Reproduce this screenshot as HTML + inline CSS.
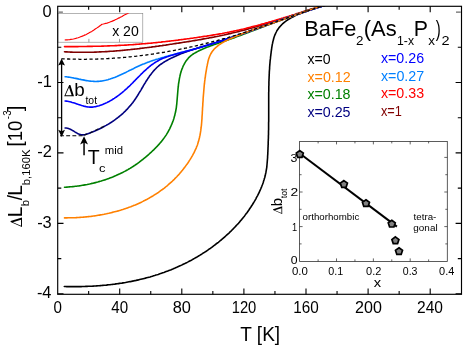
<!DOCTYPE html>
<html><head><meta charset="utf-8"><style>html,body{margin:0;padding:0;background:#fff}svg{display:block;will-change:transform}text{font-family:"Liberation Sans",sans-serif;fill:#000}</style></head><body>
<svg width="463" height="347" viewBox="0 0 463 347">
<rect width="463" height="347" fill="#fff"/>
<defs><clipPath id="cm"><rect x="57.7" y="6.3" width="403.8" height="288.0"/></clipPath><clipPath id="ci"><rect x="57.9" y="13.3" width="85" height="28.9"/></clipPath></defs>
<g clip-path="url(#cm)" fill="none" stroke-width="1.6" stroke-linejoin="round" stroke-linecap="round">
<path d="M64.3,286.5 L65.5,286.5 L66.7,286.6 L67.9,286.6 L69.1,286.6 L70.3,286.6 L71.5,286.6 L72.7,286.6 L73.9,286.6 L75.1,286.6 L76.3,286.6 L77.5,286.6 L78.7,286.6 L79.9,286.6 L81.1,286.6 L82.3,286.5 L83.5,286.5 L84.7,286.5 L85.9,286.4 L87.1,286.4 L88.4,286.3 L89.6,286.3 L90.8,286.2 L92.0,286.2 L93.2,286.1 L94.4,286.0 L95.6,286.0 L96.8,285.9 L98.0,285.8 L99.2,285.7 L100.4,285.6 L101.6,285.5 L102.8,285.4 L104.0,285.3 L105.2,285.2 L106.4,285.1 L107.6,284.9 L108.8,284.8 L110.0,284.7 L111.2,284.5 L112.4,284.4 L113.6,284.2 L114.8,284.1 L116.0,283.9 L117.2,283.8 L118.4,283.6 L119.5,283.4 L120.7,283.2 L121.9,283.1 L123.1,282.9 L124.3,282.7 L125.5,282.5 L126.7,282.2 L127.9,282.0 L129.0,281.8 L130.2,281.6 L131.4,281.4 L132.6,281.1 L133.8,280.9 L134.9,280.6 L136.1,280.4 L137.3,280.1 L138.5,279.9 L139.6,279.6 L140.8,279.3 L142.0,279.0 L143.2,278.7 L144.3,278.4 L145.5,278.1 L146.6,277.8 L147.8,277.5 L149.0,277.2 L150.1,276.9 L151.3,276.5 L152.4,276.2 L153.6,275.8 L154.7,275.5 L155.9,275.1 L157.0,274.8 L158.2,274.4 L159.3,274.0 L160.5,273.6 L161.6,273.2 L162.7,272.8 L163.9,272.4 L165.0,272.0 L166.1,271.6 L167.2,271.2 L168.4,270.8 L169.5,270.3 L170.6,269.9 L171.7,269.4 L172.8,269.0 L173.9,268.5 L175.1,268.0 L176.2,267.5 L177.3,267.1 L178.4,266.6 L179.5,266.1 L180.6,265.6 L181.6,265.1 L182.7,264.5 L183.8,264.0 L184.9,263.5 L186.0,262.9 L187.1,262.4 L188.1,261.9 L189.2,261.3 L190.3,260.7 L191.3,260.2 L192.4,259.6 L193.4,259.0 L194.5,258.4 L195.5,257.8 L196.6,257.2 L197.6,256.6 L198.6,256.0 L199.7,255.4 L200.7,254.7 L201.7,254.1 L202.7,253.4 L203.7,252.8 L204.8,252.1 L205.8,251.5 L206.8,250.8 L207.8,250.1 L208.7,249.4 L209.7,248.8 L210.7,248.1 L211.7,247.4 L212.7,246.6 L213.6,245.9 L214.6,245.2 L215.5,244.5 L216.5,243.7 L217.4,243.0 L218.4,242.3 L219.3,241.5 L220.3,240.7 L221.2,240.0 L222.1,239.2 L223.0,238.4 L223.9,237.6 L224.8,236.8 L225.7,236.0 L226.6,235.2 L227.5,234.4 L228.4,233.6 L229.3,232.8 L230.1,231.9 L231.0,231.1 L231.8,230.3 L232.7,229.4 L233.5,228.5 L234.4,227.7 L235.2,226.8 L236.0,225.9 L236.8,225.0 L237.7,224.2 L238.5,223.3 L239.2,222.4 L240.0,221.4 L240.8,220.5 L241.6,219.6 L242.3,218.7 L243.1,217.7 L243.9,216.8 L244.6,215.9 L245.3,214.9 L246.0,213.9 L246.8,213.0 L247.5,212.0 L248.2,211.0 L248.9,210.0 L249.5,209.0 L250.2,208.0 L250.9,207.0 L251.5,206.0 L252.2,205.0 L252.8,204.0 L253.4,203.0 L254.1,201.9 L254.7,200.9 L255.3,199.8 L255.9,198.8 L256.4,197.7 L257.0,196.6 L257.6,195.6 L258.1,194.5 L258.7,193.4 L259.2,192.3 L259.7,191.2 L260.2,190.1 L260.7,189.0 L261.1,187.9 L261.6,186.8 L262.0,185.7 L262.5,184.5 L262.9,183.4 L263.3,182.3 L263.6,181.1 L264.0,180.0 L264.3,178.8 L264.7,177.7 L265.0,176.5 L265.3,175.3 L265.5,174.2 L265.8,173.0 L266.0,171.8 L266.2,170.7 L266.4,169.5 L266.6,168.3 L266.8,167.1 L266.9,165.9 L267.0,164.7 L267.1,163.5 L267.2,162.3 L267.3,161.1 L267.4,159.9 L267.5,158.7 L267.6,157.5 L267.6,156.3 L267.7,155.1 L267.8,153.9 L267.8,152.7 L267.9,151.5 L267.9,150.3 L268.0,149.1 L268.0,147.9 L268.1,146.7 L268.1,145.5 L268.2,144.3 L268.2,143.1 L268.2,141.9 L268.3,140.7 L268.3,139.5 L268.4,138.3 L268.4,137.1 L268.4,135.9 L268.5,134.6 L268.5,133.4 L268.5,132.2 L268.5,131.0 L268.6,129.8 L268.6,128.6 L268.6,127.4 L268.6,126.2 L268.6,125.0 L268.6,123.8 L268.6,122.6 L268.7,121.4 L268.7,120.2 L268.7,119.0 L268.7,117.8 L268.7,116.6 L268.7,115.4 L268.7,114.2 L268.7,113.0 L268.7,111.8 L268.7,110.6 L268.7,109.4 L268.7,108.2 L268.7,107.0 L268.7,105.8 L268.7,104.5 L268.7,103.3 L268.7,102.1 L268.7,100.9 L268.7,99.7 L268.7,98.5 L268.7,97.3 L268.7,96.1 L268.7,94.9 L268.7,93.7 L268.7,92.5 L268.8,91.3 L268.8,90.1 L268.8,88.9 L268.8,87.7 L268.8,86.5 L268.9,85.3 L268.9,84.1 L268.9,82.9 L268.9,81.7 L269.0,80.5 L269.0,79.3 L269.1,78.1 L269.1,76.9 L269.2,75.7 L269.2,74.5 L269.3,73.3 L269.3,72.1 L269.4,70.9 L269.5,69.7 L269.6,68.5 L269.6,67.3 L269.7,66.1 L269.8,64.9 L269.9,63.7 L270.0,62.5 L270.1,61.3 L270.2,60.1 L270.4,58.9 L270.5,57.7 L270.6,56.5 L270.8,55.3 L270.9,54.1 L271.1,52.8 L271.2,51.6 L271.4,50.4 L271.6,49.2 L271.7,48.0 L271.9,46.8 L272.1,45.6 L272.3,44.4 L272.6,43.2 L272.8,42.0 L273.1,40.9 L273.4,39.7 L273.7,38.5 L274.0,37.4 L274.4,36.3 L274.8,35.2 L275.3,34.1 L275.8,33.0 L276.3,32.0 L276.8,30.9 L277.4,30.0 L278.1,29.0 L278.8,28.0 L279.5,27.1 L280.3,26.2 L281.1,25.4 L281.9,24.5 L282.8,23.7 L283.7,22.9 L284.6,22.1 L285.6,21.4 L286.5,20.7 L287.5,20.0 L288.5,19.3 L289.6,18.7 L290.6,18.1 L291.7,17.5 L292.8,16.9 L293.9,16.4 L295.0,15.8 L296.1,15.3 L297.2,14.8 L298.3,14.3 L299.5,13.9 L300.6,13.4 L301.8,13.0 L302.9,12.5 L304.1,12.1 L305.2,11.7 L306.4,11.3 L307.5,10.9 L308.7,10.5 L309.8,10.1 L310.9,9.8 L312.1,9.4 L313.2,9.0 L314.4,8.7 L315.5,8.3 L316.6,8.0 L317.8,7.6 L318.9,7.3 L320.0,7.0 L321.2,6.6 L322.3,6.3 L323.5,5.9 L324.6,5.6 L325.7,5.3 L326.9,4.9 L328.0,4.6 L329.2,4.2 L330.3,3.9 L331.5,3.6 L332.6,3.2 L333.8,2.9 L335.0,2.5" stroke="#000"/>
<path d="M64.5,51.8 L65.7,51.9 L66.9,51.9 L68.1,52.0 L69.4,52.0 L70.6,52.1 L71.8,52.1 L73.0,52.2 L74.2,52.2 L75.4,52.2 L76.6,52.3 L77.8,52.3 L79.0,52.3 L80.3,52.3 L81.5,52.3 L82.7,52.3 L83.9,52.3 L85.1,52.3 L86.3,52.3 L87.5,52.3 L88.7,52.3 L89.9,52.2 L91.1,52.2 L92.3,52.2 L93.5,52.2 L94.7,52.1 L96.0,52.1 L97.2,52.0 L98.4,52.0 L99.6,51.9 L100.8,51.9 L102.0,51.8 L103.2,51.8 L104.4,51.7 L105.6,51.6 L106.8,51.6 L108.0,51.5 L109.2,51.4 L110.4,51.3 L111.6,51.2 L112.8,51.2 L114.0,51.1 L115.2,51.0 L116.4,50.9 L117.6,50.8 L118.8,50.7 L120.0,50.6 L121.2,50.5 L122.4,50.4 L123.6,50.3 L124.8,50.1 L126.0,50.0 L127.2,49.9 L128.4,49.8 L129.6,49.7 L130.8,49.5 L132.0,49.4 L133.2,49.3 L134.4,49.1 L135.6,49.0 L136.8,48.9 L138.0,48.7 L139.2,48.6 L140.4,48.4 L141.6,48.3 L142.8,48.1 L144.0,48.0 L145.2,47.8 L146.4,47.7 L147.6,47.5 L148.8,47.4 L150.0,47.2 L151.2,47.1 L152.4,46.9 L153.6,46.7 L154.8,46.6 L156.0,46.4 L157.2,46.2 L158.4,46.1 L159.6,45.9 L160.8,45.7 L162.0,45.6 L163.2,45.4 L164.4,45.2 L165.6,45.1 L166.8,44.9 L167.9,44.7 L169.1,44.5 L170.3,44.3 L171.5,44.2 L172.7,44.0 L173.9,43.8 L175.1,43.6 L176.3,43.4 L177.5,43.3 L178.7,43.1 L179.9,42.9 L181.1,42.7 L182.3,42.5 L183.5,42.3 L184.7,42.1 L185.9,42.0 L187.1,41.8 L188.3,41.6 L189.5,41.4 L190.6,41.2 L191.8,41.0 L193.0,40.8 L194.2,40.6 L195.4,40.4 L196.6,40.2 L197.8,40.0 L199.0,39.8 L200.2,39.6 L201.4,39.4 L202.6,39.1 L203.8,38.9 L204.9,38.7 L206.1,38.5 L207.3,38.3 L208.5,38.1 L209.7,37.8 L210.9,37.6 L212.1,37.4 L213.3,37.2 L214.4,36.9 L215.6,36.7 L216.8,36.5 L218.0,36.2 L219.2,36.0 L220.4,35.7 L221.5,35.5 L222.7,35.2 L223.9,35.0 L225.1,34.7 L226.2,34.5 L227.4,34.2 L228.6,33.9 L229.8,33.7 L231.0,33.4 L232.1,33.1 L233.3,32.8 L234.5,32.5 L235.6,32.3 L236.8,32.0 L238.0,31.7 L239.2,31.4 L240.3,31.1 L241.5,30.8 L242.7,30.5 L243.8,30.2 L245.0,29.9 L246.2,29.6 L247.3,29.2 L248.5,28.9 L249.6,28.6 L250.8,28.3 L252.0,28.0 L253.1,27.6 L254.3,27.3 L255.5,27.0 L256.6,26.6 L257.8,26.3 L258.9,26.0 L260.1,25.6 L261.2,25.3 L262.4,25.0 L263.6,24.6 L264.7,24.3 L265.9,23.9 L267.0,23.6 L268.2,23.2 L269.3,22.9 L270.5,22.5 L271.6,22.2 L272.8,21.8 L274.0,21.4 L275.1,21.1 L276.3,20.7 L277.4,20.3 L278.6,20.0 L279.7,19.6 L280.9,19.3 L282.0,18.9 L283.2,18.5 L284.3,18.1 L285.5,17.8 L286.6,17.4 L287.8,17.0 L288.9,16.7 L290.1,16.3 L291.2,15.9 L292.4,15.5 L293.5,15.1 L294.6,14.8 L295.8,14.4 L296.9,14.0 L298.1,13.6 L299.2,13.3 L300.4,12.9 L301.5,12.5 L302.7,12.1 L303.8,11.7 L305.0,11.4 L306.1,11.0 L307.3,10.6 L308.4,10.2 L309.6,9.9 L310.7,9.5 L311.9,9.1 L313.0,8.8 L314.2,8.4 L315.3,8.0 L316.5,7.7 L317.6,7.3 L318.8,6.9 L319.9,6.6 L321.1,6.2 L322.2,5.9 L323.4,5.5 L324.5,5.2 L325.7,4.8 L326.9,4.5 L328.0,4.1 L329.2,3.8 L330.3,3.5 L331.5,3.1 L332.7,2.8 L333.8,2.5 L335.0,2.2" stroke="#800000"/>
<path d="M64.5,46.6 L65.7,46.6 L66.9,46.6 L68.1,46.6 L69.3,46.6 L70.6,46.6 L71.8,46.6 L73.0,46.6 L74.2,46.6 L75.4,46.6 L76.6,46.6 L77.8,46.6 L79.0,46.5 L80.2,46.5 L81.4,46.5 L82.7,46.5 L83.9,46.5 L85.1,46.5 L86.3,46.5 L87.5,46.4 L88.7,46.4 L89.9,46.4 L91.1,46.4 L92.3,46.4 L93.5,46.3 L94.7,46.3 L96.0,46.3 L97.2,46.2 L98.4,46.2 L99.6,46.2 L100.8,46.2 L102.0,46.1 L103.2,46.1 L104.4,46.0 L105.6,46.0 L106.8,46.0 L108.0,45.9 L109.2,45.9 L110.5,45.8 L111.7,45.8 L112.9,45.7 L114.1,45.7 L115.3,45.6 L116.5,45.6 L117.7,45.5 L118.9,45.4 L120.1,45.4 L121.3,45.3 L122.5,45.3 L123.7,45.2 L124.9,45.1 L126.1,45.1 L127.3,45.0 L128.6,44.9 L129.8,44.8 L131.0,44.8 L132.2,44.7 L133.4,44.6 L134.6,44.5 L135.8,44.4 L137.0,44.3 L138.2,44.2 L139.4,44.1 L140.6,44.0 L141.8,43.9 L143.0,43.8 L144.2,43.7 L145.4,43.6 L146.6,43.5 L147.8,43.4 L149.0,43.3 L150.2,43.2 L151.4,43.1 L152.6,43.0 L153.8,42.8 L155.0,42.7 L156.2,42.6 L157.4,42.5 L158.6,42.3 L159.8,42.2 L161.0,42.1 L162.2,41.9 L163.4,41.8 L164.6,41.7 L165.9,41.5 L167.1,41.4 L168.3,41.3 L169.5,41.1 L170.7,41.0 L171.9,40.8 L173.1,40.7 L174.3,40.5 L175.5,40.4 L176.7,40.2 L177.9,40.1 L179.1,39.9 L180.3,39.8 L181.5,39.6 L182.7,39.5 L183.9,39.3 L185.1,39.1 L186.3,39.0 L187.5,38.8 L188.7,38.7 L189.9,38.5 L191.1,38.3 L192.3,38.2 L193.5,38.0 L194.7,37.8 L195.9,37.7 L197.1,37.5 L198.3,37.3 L199.5,37.1 L200.6,37.0 L201.8,36.8 L203.0,36.6 L204.2,36.4 L205.4,36.2 L206.6,36.1 L207.8,35.9 L209.0,35.7 L210.2,35.5 L211.4,35.3 L212.6,35.1 L213.8,34.9 L215.0,34.7 L216.2,34.5 L217.4,34.3 L218.6,34.1 L219.8,33.9 L221.0,33.7 L222.1,33.5 L223.3,33.2 L224.5,33.0 L225.7,32.8 L226.9,32.6 L228.1,32.3 L229.3,32.1 L230.4,31.8 L231.6,31.6 L232.8,31.4 L234.0,31.1 L235.2,30.8 L236.3,30.6 L237.5,30.3 L238.7,30.1 L239.9,29.8 L241.1,29.5 L242.2,29.2 L243.4,29.0 L244.6,28.7 L245.7,28.4 L246.9,28.1 L248.1,27.8 L249.3,27.5 L250.4,27.2 L251.6,26.9 L252.8,26.6 L253.9,26.3 L255.1,26.0 L256.3,25.7 L257.4,25.4 L258.6,25.1 L259.8,24.8 L260.9,24.4 L262.1,24.1 L263.3,23.8 L264.4,23.5 L265.6,23.1 L266.8,22.8 L267.9,22.5 L269.1,22.1 L270.2,21.8 L271.4,21.5 L272.6,21.1 L273.7,20.8 L274.9,20.4 L276.0,20.1 L277.2,19.7 L278.4,19.4 L279.5,19.0 L280.7,18.7 L281.8,18.3 L283.0,18.0 L284.1,17.6 L285.3,17.3 L286.4,16.9 L287.6,16.6 L288.8,16.2 L289.9,15.8 L291.1,15.5 L292.2,15.1 L293.4,14.7 L294.5,14.4 L295.7,14.0 L296.8,13.6 L298.0,13.3 L299.1,12.9 L300.3,12.5 L301.4,12.2 L302.6,11.8 L303.7,11.4 L304.9,11.1 L306.1,10.7 L307.2,10.3 L308.4,10.0 L309.5,9.6 L310.7,9.2 L311.8,8.9 L313.0,8.5 L314.1,8.2 L315.3,7.8 L316.4,7.4 L317.6,7.1 L318.8,6.7 L319.9,6.4 L321.1,6.0 L322.2,5.7 L323.4,5.3 L324.5,5.0 L325.7,4.6 L326.9,4.3 L328.0,4.0 L329.2,3.6 L330.3,3.3 L331.5,3.0 L332.7,2.7 L333.8,2.3 L335.0,2.0" stroke="#ff0000"/>
<path d="M64.5,187.2 L65.7,187.2 L66.9,187.1 L68.1,187.0 L69.3,186.9 L70.5,186.8 L71.7,186.7 L72.9,186.6 L74.1,186.5 L75.3,186.3 L76.5,186.2 L77.7,186.0 L78.9,185.9 L80.1,185.7 L81.3,185.5 L82.5,185.3 L83.7,185.1 L84.9,184.9 L86.0,184.7 L87.2,184.5 L88.4,184.2 L89.6,184.0 L90.8,183.7 L92.0,183.4 L93.1,183.2 L94.3,182.9 L95.5,182.6 L96.7,182.3 L97.8,182.0 L99.0,181.6 L100.2,181.3 L101.3,181.0 L102.5,180.6 L103.6,180.2 L104.8,179.9 L105.9,179.5 L107.1,179.1 L108.2,178.7 L109.3,178.3 L110.5,177.8 L111.6,177.4 L112.7,177.0 L113.8,176.5 L114.9,176.0 L116.0,175.6 L117.1,175.1 L118.2,174.6 L119.3,174.1 L120.4,173.5 L121.5,173.0 L122.6,172.5 L123.7,171.9 L124.7,171.4 L125.8,170.8 L126.8,170.2 L127.9,169.6 L128.9,169.0 L130.0,168.4 L131.0,167.8 L132.0,167.1 L133.0,166.5 L134.0,165.8 L135.0,165.2 L136.0,164.5 L137.0,163.8 L138.0,163.1 L139.0,162.4 L139.9,161.7 L140.9,160.9 L141.8,160.2 L142.8,159.5 L143.7,158.7 L144.7,157.9 L145.6,157.2 L146.5,156.4 L147.4,155.6 L148.3,154.8 L149.2,154.0 L150.1,153.2 L151.0,152.4 L151.9,151.5 L152.8,150.7 L153.7,149.9 L154.5,149.0 L155.4,148.1 L156.2,147.3 L157.1,146.4 L157.9,145.5 L158.7,144.6 L159.5,143.7 L160.3,142.8 L161.1,141.9 L161.8,141.0 L162.6,140.0 L163.3,139.1 L164.0,138.1 L164.7,137.1 L165.4,136.1 L166.1,135.1 L166.7,134.1 L167.3,133.1 L168.0,132.0 L168.5,131.0 L169.1,129.9 L169.7,128.8 L170.2,127.7 L170.7,126.6 L171.2,125.5 L171.7,124.4 L172.1,123.3 L172.6,122.2 L173.0,121.1 L173.4,119.9 L173.8,118.8 L174.1,117.6 L174.4,116.5 L174.8,115.3 L175.0,114.1 L175.3,113.0 L175.6,111.8 L175.8,110.6 L176.0,109.5 L176.2,108.3 L176.4,107.1 L176.5,105.9 L176.7,104.7 L176.8,103.5 L176.9,102.3 L177.0,101.1 L177.1,99.9 L177.2,98.7 L177.3,97.5 L177.4,96.3 L177.5,95.1 L177.6,93.9 L177.7,92.7 L177.8,91.5 L177.9,90.3 L178.0,89.1 L178.1,87.9 L178.3,86.7 L178.4,85.4 L178.5,84.2 L178.7,83.0 L178.9,81.8 L179.1,80.6 L179.3,79.3 L179.5,78.1 L179.8,76.9 L180.0,75.7 L180.3,74.5 L180.6,73.3 L181.0,72.1 L181.3,71.0 L181.7,69.8 L182.1,68.7 L182.6,67.6 L183.0,66.5 L183.5,65.4 L184.1,64.4 L184.6,63.3 L185.2,62.3 L185.8,61.3 L186.5,60.4 L187.2,59.5 L188.0,58.6 L188.7,57.7 L189.6,56.9 L190.4,56.2 L191.3,55.4 L192.3,54.7 L193.2,54.0 L194.2,53.4 L195.3,52.8 L196.3,52.2 L197.4,51.6 L198.5,51.0 L199.6,50.5 L200.7,50.0 L201.8,49.5 L202.9,49.0 L204.1,48.5 L205.2,48.0 L206.3,47.6 L207.4,47.1 L208.6,46.7 L209.7,46.3 L210.8,45.8 L212.0,45.4 L213.1,45.0 L214.3,44.6 L215.4,44.2 L216.6,43.8 L217.7,43.4 L218.8,43.0 L220.0,42.6 L221.1,42.2 L222.3,41.8 L223.4,41.5 L224.6,41.1 L225.7,40.7 L226.9,40.3 L228.0,39.9 L229.1,39.5 L230.3,39.1 L231.4,38.7 L232.6,38.3 L233.7,37.9 L234.8,37.4 L236.0,37.0 L237.1,36.6 L238.2,36.2 L239.4,35.8 L240.5,35.4 L241.6,35.0 L242.8,34.5 L243.9,34.1 L245.0,33.7 L246.2,33.3 L247.3,32.8 L248.4,32.4 L249.5,32.0 L250.7,31.6 L251.8,31.1 L252.9,30.7 L254.1,30.3 L255.2,29.8 L256.3,29.4 L257.4,29.0 L258.6,28.6 L259.7,28.1 L260.8,27.7 L261.9,27.3 L263.1,26.8 L264.2,26.4 L265.3,26.0 L266.4,25.5 L267.6,25.1 L268.7,24.7 L269.8,24.2 L270.9,23.8 L272.1,23.4 L273.2,23.0 L274.3,22.5 L275.4,22.1 L276.6,21.7 L277.7,21.3 L278.8,20.8 L280.0,20.4 L281.1,20.0 L282.2,19.6 L283.3,19.1 L284.5,18.7 L285.6,18.3 L286.7,17.9 L287.9,17.5 L289.0,17.1 L290.1,16.6 L291.3,16.2 L292.4,15.8 L293.5,15.4 L294.7,15.0 L295.8,14.6 L296.9,14.2 L298.1,13.8 L299.2,13.4 L300.3,13.0 L301.5,12.6 L302.6,12.3 L303.8,11.9 L304.9,11.5 L306.1,11.1 L307.2,10.7 L308.3,10.3 L309.5,10.0 L310.6,9.6 L311.8,9.2 L312.9,8.9 L314.1,8.5 L315.2,8.2 L316.4,7.8 L317.6,7.4 L318.7,7.1 L319.9,6.8 L321.0,6.4 L322.2,6.1 L323.4,5.7 L324.5,5.4 L325.7,5.1 L326.9,4.8 L328.0,4.4 L329.2,4.1 L330.4,3.8 L331.5,3.5 L332.7,3.2 L333.9,2.9 L335.1,2.6" stroke="#008000"/>
<path d="M65.1,76.7 L66.3,76.8 L67.4,77.0 L68.6,77.1 L69.8,77.3 L71.0,77.5 L72.2,77.7 L73.4,77.9 L74.5,78.2 L75.7,78.4 L76.9,78.6 L78.1,78.9 L79.3,79.2 L80.5,79.4 L81.7,79.7 L83.0,79.9 L84.2,80.1 L85.4,80.4 L86.6,80.6 L87.8,80.8 L89.0,81.0 L90.2,81.1 L91.4,81.2 L92.6,81.3 L93.8,81.4 L95.0,81.5 L96.2,81.5 L97.4,81.4 L98.5,81.4 L99.7,81.3 L100.9,81.1 L102.1,81.0 L103.2,80.7 L104.4,80.5 L105.6,80.3 L106.7,80.0 L107.9,79.7 L109.0,79.3 L110.1,79.0 L111.3,78.6 L112.4,78.2 L113.5,77.8 L114.6,77.4 L115.8,76.9 L116.9,76.5 L118.0,76.0 L119.1,75.5 L120.2,75.0 L121.3,74.5 L122.4,74.0 L123.5,73.5 L124.6,73.0 L125.7,72.5 L126.8,71.9 L127.8,71.4 L128.9,70.8 L130.0,70.3 L131.1,69.8 L132.2,69.2 L133.3,68.7 L134.4,68.1 L135.5,67.6 L136.6,67.1 L137.7,66.6 L138.8,66.1 L139.9,65.6 L141.0,65.1 L142.1,64.6 L143.3,64.1 L144.4,63.7 L145.5,63.2 L146.6,62.8 L147.8,62.3 L148.9,61.9 L150.0,61.5 L151.2,61.1 L152.3,60.7 L153.4,60.3 L154.6,60.0 L155.7,59.6 L156.9,59.2 L158.0,58.9 L159.2,58.5 L160.3,58.2 L161.5,57.8 L162.7,57.5 L163.8,57.2 L165.0,56.8 L166.1,56.5 L167.3,56.2 L168.5,55.9 L169.6,55.6 L170.8,55.3 L172.0,55.0 L173.1,54.7 L174.3,54.4 L175.5,54.0 L176.6,53.7 L177.8,53.4 L179.0,53.1 L180.1,52.8 L181.3,52.5 L182.5,52.2 L183.6,51.9 L184.8,51.6 L186.0,51.3 L187.1,51.0 L188.3,50.7 L189.5,50.4 L190.6,50.1 L191.8,49.8 L193.0,49.4 L194.1,49.1 L195.3,48.8 L196.4,48.5 L197.6,48.1 L198.8,47.8 L199.9,47.4 L201.1,47.1 L202.2,46.8 L203.4,46.4 L204.5,46.1 L205.7,45.7 L206.9,45.4 L208.0,45.0 L209.2,44.7 L210.3,44.3 L211.5,44.0 L212.6,43.6 L213.8,43.2 L214.9,42.9 L216.1,42.5 L217.2,42.1 L218.4,41.8 L219.5,41.4 L220.7,41.0 L221.8,40.6 L223.0,40.3 L224.1,39.9 L225.2,39.5 L226.4,39.1 L227.5,38.8 L228.7,38.4 L229.8,38.0 L231.0,37.6 L232.1,37.2 L233.2,36.8 L234.4,36.4 L235.5,36.0 L236.7,35.7 L237.8,35.3 L239.0,34.9 L240.1,34.5 L241.2,34.1 L242.4,33.7 L243.5,33.3 L244.7,32.9 L245.8,32.5 L246.9,32.1 L248.1,31.7 L249.2,31.3 L250.4,30.9 L251.5,30.5 L252.6,30.1 L253.8,29.7 L254.9,29.3 L256.0,28.9 L257.2,28.5 L258.3,28.1 L259.5,27.7 L260.6,27.3 L261.7,26.9 L262.9,26.4 L264.0,26.0 L265.1,25.6 L266.3,25.2 L267.4,24.8 L268.6,24.4 L269.7,24.0 L270.8,23.6 L272.0,23.2 L273.1,22.8 L274.2,22.4 L275.4,22.0 L276.5,21.6 L277.7,21.2 L278.8,20.8 L279.9,20.4 L281.1,20.0 L282.2,19.6 L283.4,19.2 L284.5,18.8 L285.6,18.4 L286.8,18.0 L287.9,17.6 L289.0,17.2 L290.2,16.8 L291.3,16.4 L292.5,16.0 L293.6,15.6 L294.8,15.2 L295.9,14.8 L297.0,14.4 L298.2,14.0 L299.3,13.7 L300.5,13.3 L301.6,12.9 L302.7,12.5 L303.9,12.1 L305.0,11.7 L306.2,11.4 L307.3,11.0 L308.5,10.6 L309.6,10.2 L310.8,9.8 L311.9,9.5 L313.1,9.1 L314.2,8.7 L315.4,8.4 L316.5,8.0 L317.6,7.6 L318.8,7.3 L319.9,6.9 L321.1,6.6 L322.3,6.2 L323.4,5.8 L324.6,5.5 L325.7,5.1 L326.9,4.8 L328.0,4.4 L329.2,4.1 L330.3,3.8 L331.5,3.4 L332.6,3.1 L333.8,2.7 L335.0,2.4" stroke="#0080ff"/>
<path d="M65.1,128.0 L66.2,128.0 L67.4,128.2 L68.5,128.5 L69.6,128.9 L70.8,129.5 L71.9,130.1 L73.0,130.7 L74.1,131.4 L75.2,132.1 L76.4,132.8 L77.5,133.4 L78.6,133.9 L79.7,134.3 L80.8,134.7 L82.0,134.8 L83.1,134.9 L84.2,134.7 L85.3,134.5 L86.4,134.1 L87.6,133.8 L88.7,133.4 L89.8,133.0 L90.9,132.5 L92.0,132.1 L93.1,131.7 L94.2,131.2 L95.4,130.7 L96.5,130.2 L97.6,129.8 L98.7,129.2 L99.8,128.7 L100.9,128.2 L101.9,127.7 L103.0,127.1 L104.1,126.5 L105.2,125.9 L106.2,125.4 L107.3,124.7 L108.4,124.1 L109.4,123.5 L110.4,122.8 L111.5,122.2 L112.5,121.5 L113.5,120.8 L114.5,120.1 L115.5,119.4 L116.4,118.7 L117.4,118.0 L118.4,117.2 L119.3,116.5 L120.2,115.7 L121.2,114.9 L122.1,114.1 L123.0,113.3 L123.8,112.5 L124.7,111.6 L125.6,110.8 L126.4,109.9 L127.2,109.1 L128.0,108.2 L128.8,107.3 L129.6,106.4 L130.4,105.5 L131.2,104.6 L131.9,103.6 L132.7,102.7 L133.4,101.7 L134.1,100.8 L134.8,99.8 L135.5,98.8 L136.1,97.8 L136.8,96.8 L137.4,95.8 L138.1,94.8 L138.7,93.7 L139.3,92.7 L139.9,91.7 L140.6,90.6 L141.2,89.6 L141.8,88.5 L142.4,87.5 L143.0,86.5 L143.6,85.4 L144.2,84.4 L144.9,83.3 L145.5,82.3 L146.1,81.2 L146.8,80.2 L147.5,79.2 L148.1,78.2 L148.8,77.2 L149.5,76.1 L150.2,75.2 L151.0,74.2 L151.7,73.2 L152.5,72.3 L153.3,71.3 L154.1,70.4 L154.9,69.5 L155.7,68.7 L156.6,67.8 L157.4,67.0 L158.4,66.2 L159.3,65.4 L160.2,64.7 L161.2,64.0 L162.2,63.3 L163.2,62.6 L164.2,62.0 L165.2,61.4 L166.3,60.8 L167.3,60.2 L168.4,59.6 L169.5,59.0 L170.5,58.5 L171.6,57.9 L172.7,57.4 L173.8,56.9 L174.9,56.4 L176.0,55.9 L177.1,55.4 L178.2,55.0 L179.3,54.5 L180.4,54.0 L181.5,53.6 L182.6,53.2 L183.8,52.7 L184.9,52.3 L186.0,51.9 L187.2,51.5 L188.3,51.1 L189.4,50.7 L190.6,50.3 L191.7,49.9 L192.9,49.6 L194.0,49.2 L195.2,48.8 L196.3,48.5 L197.5,48.1 L198.6,47.7 L199.8,47.4 L201.0,47.0 L202.1,46.7 L203.3,46.3 L204.4,46.0 L205.6,45.6 L206.8,45.3 L207.9,44.9 L209.1,44.6 L210.2,44.2 L211.4,43.9 L212.6,43.5 L213.7,43.2 L214.9,42.8 L216.0,42.5 L217.2,42.1 L218.3,41.8 L219.5,41.4 L220.6,41.0 L221.8,40.7 L222.9,40.3 L224.1,39.9 L225.2,39.6 L226.4,39.2 L227.5,38.8 L228.7,38.4 L229.8,38.1 L231.0,37.7 L232.1,37.3 L233.3,36.9 L234.4,36.5 L235.6,36.1 L236.7,35.8 L237.8,35.4 L239.0,35.0 L240.1,34.6 L241.3,34.2 L242.4,33.8 L243.5,33.4 L244.7,33.0 L245.8,32.6 L247.0,32.2 L248.1,31.8 L249.2,31.4 L250.4,31.0 L251.5,30.6 L252.6,30.2 L253.8,29.8 L254.9,29.4 L256.1,29.0 L257.2,28.6 L258.3,28.2 L259.5,27.8 L260.6,27.4 L261.7,27.0 L262.9,26.6 L264.0,26.1 L265.1,25.7 L266.3,25.3 L267.4,24.9 L268.5,24.5 L269.7,24.1 L270.8,23.7 L271.9,23.3 L273.1,22.9 L274.2,22.4 L275.4,22.0 L276.5,21.6 L277.6,21.2 L278.8,20.8 L279.9,20.4 L281.0,20.0 L282.2,19.6 L283.3,19.2 L284.4,18.7 L285.6,18.3 L286.7,17.9 L287.9,17.5 L289.0,17.1 L290.1,16.7 L291.3,16.3 L292.4,15.9 L293.5,15.5 L294.7,15.1 L295.8,14.7 L297.0,14.3 L298.1,13.9 L299.2,13.5 L300.4,13.1 L301.5,12.8 L302.7,12.4 L303.8,12.0 L305.0,11.6 L306.1,11.2 L307.3,10.8 L308.4,10.5 L309.6,10.1 L310.7,9.7 L311.8,9.3 L313.0,9.0 L314.1,8.6 L315.3,8.2 L316.5,7.9 L317.6,7.5 L318.8,7.2 L319.9,6.8 L321.1,6.5 L322.2,6.1 L323.4,5.8 L324.5,5.4 L325.7,5.1 L326.9,4.8 L328.0,4.4 L329.2,4.1 L330.3,3.8 L331.5,3.5 L332.7,3.2 L333.8,2.8 L335.0,2.5" stroke="#000080"/>
<path d="M65.1,101.0 L66.3,101.1 L67.5,101.3 L68.6,101.5 L69.8,101.7 L71.0,102.0 L72.2,102.4 L73.3,102.7 L74.5,103.1 L75.7,103.5 L76.9,103.9 L78.0,104.3 L79.2,104.7 L80.4,105.1 L81.6,105.5 L82.8,105.8 L83.9,106.2 L85.1,106.4 L86.3,106.7 L87.5,106.9 L88.7,107.0 L89.8,107.1 L91.0,107.1 L92.2,107.1 L93.4,107.0 L94.5,106.8 L95.7,106.6 L96.9,106.3 L98.0,106.0 L99.2,105.7 L100.3,105.3 L101.4,104.9 L102.6,104.5 L103.7,104.0 L104.8,103.6 L105.9,103.1 L106.9,102.6 L108.0,102.0 L109.1,101.5 L110.1,100.9 L111.2,100.3 L112.2,99.7 L113.2,99.0 L114.3,98.4 L115.3,97.7 L116.3,97.0 L117.2,96.3 L118.2,95.6 L119.2,94.9 L120.2,94.1 L121.1,93.4 L122.1,92.6 L123.0,91.8 L124.0,91.0 L124.9,90.2 L125.8,89.4 L126.7,88.6 L127.6,87.7 L128.5,86.9 L129.4,86.1 L130.3,85.2 L131.1,84.3 L132.0,83.5 L132.9,82.6 L133.7,81.7 L134.6,80.9 L135.4,80.0 L136.3,79.1 L137.1,78.3 L138.0,77.4 L138.9,76.5 L139.7,75.7 L140.6,74.8 L141.4,73.9 L142.3,73.1 L143.1,72.3 L144.0,71.4 L144.9,70.6 L145.8,69.8 L146.7,69.0 L147.6,68.2 L148.5,67.5 L149.4,66.7 L150.3,66.0 L151.2,65.2 L152.2,64.5 L153.2,63.8 L154.1,63.2 L155.1,62.5 L156.1,61.9 L157.2,61.3 L158.2,60.7 L159.2,60.1 L160.3,59.6 L161.4,59.1 L162.5,58.6 L163.6,58.1 L164.7,57.7 L165.9,57.2 L167.0,56.8 L168.2,56.4 L169.3,56.0 L170.5,55.6 L171.7,55.3 L172.9,54.9 L174.0,54.6 L175.2,54.2 L176.4,53.9 L177.6,53.6 L178.8,53.3 L179.9,52.9 L181.1,52.6 L182.3,52.3 L183.5,52.0 L184.6,51.7 L185.8,51.4 L187.0,51.1 L188.1,50.8 L189.3,50.5 L190.5,50.2 L191.6,49.8 L192.8,49.5 L193.9,49.2 L195.1,48.9 L196.3,48.5 L197.4,48.2 L198.6,47.9 L199.7,47.5 L200.9,47.2 L202.1,46.9 L203.2,46.5 L204.4,46.2 L205.5,45.8 L206.7,45.5 L207.8,45.1 L209.0,44.8 L210.1,44.4 L211.3,44.0 L212.4,43.7 L213.6,43.3 L214.7,43.0 L215.9,42.6 L217.0,42.2 L218.2,41.9 L219.3,41.5 L220.5,41.1 L221.6,40.7 L222.8,40.4 L223.9,40.0 L225.1,39.6 L226.2,39.2 L227.4,38.8 L228.5,38.5 L229.7,38.1 L230.8,37.7 L231.9,37.3 L233.1,36.9 L234.2,36.5 L235.4,36.1 L236.5,35.7 L237.7,35.3 L238.8,34.9 L239.9,34.5 L241.1,34.1 L242.2,33.8 L243.4,33.4 L244.5,33.0 L245.7,32.6 L246.8,32.2 L247.9,31.8 L249.1,31.3 L250.2,30.9 L251.4,30.5 L252.5,30.1 L253.6,29.7 L254.8,29.3 L255.9,28.9 L257.1,28.5 L258.2,28.1 L259.3,27.7 L260.5,27.3 L261.6,26.9 L262.8,26.5 L263.9,26.1 L265.0,25.7 L266.2,25.3 L267.3,24.9 L268.4,24.5 L269.6,24.1 L270.7,23.6 L271.9,23.2 L273.0,22.8 L274.1,22.4 L275.3,22.0 L276.4,21.6 L277.6,21.2 L278.7,20.8 L279.8,20.4 L281.0,20.0 L282.1,19.6 L283.3,19.2 L284.4,18.8 L285.6,18.4 L286.7,18.0 L287.8,17.6 L289.0,17.2 L290.1,16.8 L291.3,16.4 L292.4,16.0 L293.5,15.6 L294.7,15.2 L295.8,14.8 L297.0,14.4 L298.1,14.0 L299.3,13.7 L300.4,13.3 L301.6,12.9 L302.7,12.5 L303.8,12.1 L305.0,11.7 L306.1,11.4 L307.3,11.0 L308.4,10.6 L309.6,10.2 L310.7,9.8 L311.9,9.5 L313.0,9.1 L314.2,8.7 L315.3,8.4 L316.5,8.0 L317.6,7.6 L318.8,7.3 L319.9,6.9 L321.1,6.6 L322.2,6.2 L323.4,5.8 L324.5,5.5 L325.7,5.1 L326.9,4.8 L328.0,4.4 L329.2,4.1 L330.3,3.8 L331.5,3.4 L332.6,3.1 L333.8,2.8 L335.0,2.4" stroke="#0000ff"/>
<path d="M64.5,217.9 L65.7,217.9 L66.9,217.9 L68.1,217.8 L69.3,217.8 L70.5,217.8 L71.7,217.8 L72.9,217.7 L74.1,217.7 L75.3,217.7 L76.5,217.6 L77.7,217.5 L78.9,217.5 L80.1,217.4 L81.3,217.3 L82.5,217.2 L83.7,217.1 L84.9,217.0 L86.1,216.9 L87.3,216.8 L88.5,216.6 L89.7,216.5 L90.9,216.4 L92.1,216.2 L93.3,216.0 L94.5,215.9 L95.7,215.7 L96.9,215.5 L98.1,215.3 L99.3,215.1 L100.5,214.9 L101.7,214.7 L102.9,214.5 L104.1,214.3 L105.3,214.0 L106.5,213.8 L107.6,213.5 L108.8,213.3 L110.0,213.0 L111.2,212.7 L112.4,212.4 L113.5,212.1 L114.7,211.8 L115.9,211.5 L117.0,211.2 L118.2,210.9 L119.4,210.5 L120.5,210.2 L121.7,209.8 L122.8,209.5 L124.0,209.1 L125.1,208.7 L126.3,208.3 L127.4,207.9 L128.5,207.5 L129.7,207.1 L130.8,206.7 L131.9,206.2 L133.1,205.8 L134.2,205.3 L135.3,204.9 L136.4,204.4 L137.5,203.9 L138.6,203.4 L139.7,202.9 L140.8,202.4 L141.9,201.9 L142.9,201.4 L144.0,200.8 L145.1,200.3 L146.1,199.7 L147.2,199.2 L148.2,198.6 L149.3,198.0 L150.3,197.4 L151.4,196.8 L152.4,196.2 L153.4,195.6 L154.4,194.9 L155.5,194.3 L156.5,193.6 L157.5,193.0 L158.5,192.3 L159.4,191.6 L160.4,190.9 L161.4,190.2 L162.4,189.5 L163.3,188.8 L164.3,188.1 L165.2,187.3 L166.2,186.5 L167.1,185.8 L168.0,185.0 L168.9,184.2 L169.8,183.4 L170.7,182.6 L171.6,181.8 L172.5,181.0 L173.4,180.1 L174.3,179.3 L175.1,178.4 L176.0,177.5 L176.8,176.7 L177.6,175.8 L178.5,174.9 L179.3,174.0 L180.1,173.0 L180.9,172.1 L181.6,171.2 L182.4,170.3 L183.2,169.3 L183.9,168.3 L184.7,167.4 L185.4,166.4 L186.1,165.4 L186.8,164.4 L187.5,163.5 L188.2,162.5 L188.9,161.4 L189.5,160.4 L190.2,159.4 L190.8,158.4 L191.4,157.4 L192.0,156.3 L192.6,155.3 L193.2,154.2 L193.8,153.2 L194.3,152.1 L194.8,151.0 L195.3,149.9 L195.8,148.8 L196.3,147.8 L196.7,146.6 L197.2,145.5 L197.6,144.4 L197.9,143.3 L198.3,142.1 L198.6,141.0 L198.9,139.9 L199.2,138.7 L199.5,137.5 L199.7,136.4 L200.0,135.2 L200.2,134.0 L200.4,132.8 L200.6,131.6 L200.8,130.4 L200.9,129.2 L201.1,128.0 L201.2,126.8 L201.4,125.6 L201.5,124.4 L201.6,123.2 L201.7,122.0 L201.8,120.8 L201.9,119.5 L202.0,118.3 L202.0,117.1 L202.1,115.9 L202.2,114.7 L202.3,113.5 L202.3,112.3 L202.4,111.0 L202.5,109.8 L202.5,108.6 L202.6,107.4 L202.7,106.2 L202.8,105.0 L202.8,103.8 L202.9,102.6 L203.0,101.4 L203.1,100.2 L203.1,99.0 L203.2,97.8 L203.3,96.6 L203.4,95.4 L203.5,94.3 L203.6,93.1 L203.7,91.9 L203.8,90.7 L203.9,89.5 L204.0,88.3 L204.1,87.1 L204.2,85.9 L204.3,84.7 L204.5,83.5 L204.6,82.3 L204.7,81.1 L204.9,79.9 L205.0,78.7 L205.2,77.5 L205.4,76.3 L205.5,75.1 L205.7,73.9 L205.9,72.7 L206.1,71.5 L206.3,70.3 L206.5,69.1 L206.7,67.9 L206.9,66.7 L207.2,65.5 L207.4,64.3 L207.7,63.1 L207.9,61.9 L208.2,60.7 L208.5,59.5 L208.9,58.3 L209.3,57.2 L209.7,56.1 L210.2,55.0 L210.7,54.0 L211.3,53.0 L211.9,52.0 L212.6,51.1 L213.3,50.2 L214.0,49.3 L214.8,48.5 L215.7,47.6 L216.6,46.9 L217.5,46.1 L218.4,45.4 L219.4,44.7 L220.4,44.0 L221.4,43.4 L222.4,42.7 L223.5,42.1 L224.5,41.5 L225.6,40.9 L226.7,40.4 L227.9,39.8 L229.0,39.3 L230.1,38.8 L231.2,38.3 L232.4,37.8 L233.5,37.3 L234.7,36.8 L235.8,36.3 L236.9,35.8 L238.1,35.4 L239.2,34.9 L240.3,34.5 L241.5,34.0 L242.6,33.6 L243.7,33.2 L244.9,32.7 L246.0,32.3 L247.1,31.9 L248.3,31.5 L249.4,31.1 L250.5,30.7 L251.7,30.3 L252.8,29.9 L253.9,29.5 L255.1,29.1 L256.2,28.7 L257.3,28.3 L258.4,28.0 L259.6,27.6 L260.7,27.2 L261.8,26.8 L263.0,26.4 L264.1,26.0 L265.2,25.7 L266.4,25.3 L267.5,24.9 L268.6,24.5 L269.7,24.1 L270.9,23.8 L272.0,23.4 L273.1,23.0 L274.3,22.6 L275.4,22.2 L276.5,21.8 L277.7,21.4 L278.8,21.0 L279.9,20.6 L281.1,20.2 L282.2,19.8 L283.3,19.4 L284.5,19.0 L285.6,18.5 L286.7,18.1 L287.9,17.7 L289.0,17.3 L290.2,16.9 L291.3,16.5 L292.4,16.1 L293.6,15.6 L294.7,15.2 L295.9,14.8 L297.0,14.4 L298.1,14.0 L299.3,13.6 L300.4,13.2 L301.6,12.8 L302.7,12.4 L303.8,12.0 L305.0,11.6 L306.1,11.2 L307.3,10.8 L308.4,10.4 L309.6,10.0 L310.7,9.6 L311.9,9.2 L313.0,8.8 L314.2,8.5 L315.3,8.1 L316.5,7.7 L317.6,7.4 L318.8,7.0 L319.9,6.6 L321.1,6.3 L322.2,6.0 L323.4,5.6 L324.6,5.3 L325.7,5.0 L326.9,4.6 L328.0,4.3 L329.2,4.0 L330.4,3.7 L331.5,3.4 L332.7,3.2 L333.8,2.9 L335.0,2.6" stroke="#ff8000"/>
<path d="M61.5,58.7 L62.7,58.8 L64.0,58.9 L65.2,58.9 L66.4,59.0 L67.6,59.0 L68.8,59.0 L70.0,59.1 L71.2,59.1 L72.5,59.1 L73.7,59.2 L74.9,59.2 L76.1,59.2 L77.3,59.2 L78.5,59.2 L79.7,59.3 L80.9,59.3 L82.1,59.3 L83.4,59.3 L84.6,59.3 L85.8,59.3 L87.0,59.2 L88.2,59.2 L89.4,59.2 L90.6,59.2 L91.8,59.2 L93.0,59.1 L94.2,59.1 L95.4,59.1 L96.7,59.1 L97.9,59.0 L99.1,59.0 L100.3,58.9 L101.5,58.9 L102.7,58.8 L103.9,58.8 L105.1,58.7 L106.3,58.7 L107.5,58.6 L108.7,58.5 L109.9,58.5 L111.1,58.4 L112.3,58.3 L113.5,58.2 L114.7,58.1 L115.9,58.1 L117.1,58.0 L118.3,57.9 L119.6,57.8 L120.8,57.7 L122.0,57.6 L123.2,57.5 L124.4,57.4 L125.6,57.3 L126.8,57.2 L128.0,57.0 L129.2,56.9 L130.4,56.8 L131.6,56.7 L132.8,56.6 L134.0,56.4 L135.2,56.3 L136.3,56.2 L137.5,56.0 L138.7,55.9 L139.9,55.7 L141.1,55.6 L142.3,55.4 L143.5,55.3 L144.7,55.1 L145.9,55.0 L147.1,54.8 L148.3,54.6 L149.5,54.5 L150.7,54.3 L151.9,54.1 L153.1,54.0 L154.3,53.8 L155.5,53.6 L156.7,53.4 L157.8,53.2 L159.0,53.0 L160.2,52.9 L161.4,52.7 L162.6,52.5 L163.8,52.3 L165.0,52.1 L166.2,51.9 L167.3,51.6 L168.5,51.4 L169.7,51.2 L170.9,51.0 L172.1,50.8 L173.3,50.6 L174.5,50.3 L175.6,50.1 L176.8,49.9 L178.0,49.7 L179.2,49.4 L180.4,49.2 L181.6,48.9 L182.7,48.7 L183.9,48.5 L185.1,48.2 L186.3,48.0 L187.5,47.7 L188.6,47.5 L189.8,47.2 L191.0,46.9 L192.2,46.7 L193.3,46.4 L194.5,46.1 L195.7,45.9 L196.9,45.6 L198.0,45.3 L199.2,45.1 L200.4,44.8 L201.6,44.5 L202.7,44.2 L203.9,43.9 L205.1,43.6 L206.2,43.3 L207.4,43.0 L208.6,42.8 L209.8,42.5 L210.9,42.2 L212.1,41.8 L213.3,41.5 L214.4,41.2 L215.6,40.9 L216.8,40.6 L217.9,40.3 L219.1,40.0 L220.2,39.7 L221.4,39.3 L222.6,39.0 L223.7,38.7 L224.9,38.4 L226.1,38.0 L227.2,37.7 L228.4,37.4 L229.5,37.0 L230.7,36.7 L231.8,36.3 L233.0,36.0 L234.2,35.6 L235.3,35.3 L236.5,34.9 L237.6,34.6 L238.8,34.2 L239.9,33.9 L241.1,33.5 L242.2,33.2 L243.4,32.8 L244.5,32.4 L245.7,32.1 L246.8,31.7 L248.0,31.3 L249.1,31.0 L250.3,30.6 L251.4,30.2 L252.6,29.8 L253.7,29.4 L254.9,29.1 L256.0,28.7 L257.1,28.3 L258.3,27.9 L259.4,27.5 L260.6,27.1 L261.7,26.8 L262.9,26.4 L264.0,26.0 L265.1,25.6 L266.3,25.2 L267.4,24.8 L268.6,24.4 L269.7,24.0 L270.9,23.6 L272.0,23.2 L273.1,22.8 L274.3,22.4 L275.4,22.0 L276.6,21.6 L277.7,21.2 L278.8,20.8 L280.0,20.4 L281.1,20.0 L282.3,19.6 L283.4,19.3 L284.5,18.9 L285.7,18.5 L286.8,18.1 L287.9,17.7 L289.1,17.3 L290.2,16.9 L291.4,16.5 L292.5,16.1 L293.6,15.7 L294.8,15.3 L295.9,14.9 L297.1,14.5 L298.2,14.1 L299.4,13.7 L300.5,13.3 L301.6,12.9 L302.8,12.5 L303.9,12.2 L305.1,11.8 L306.2,11.4 L307.3,11.0 L308.5,10.6 L309.6,10.2 L310.8,9.9 L311.9,9.5 L313.1,9.1 L314.2,8.7 L315.4,8.4 L316.5,8.0 L317.6,7.6 L318.8,7.2 L319.9,6.9 L321.1,6.5 L322.2,6.1 L323.4,5.8 L324.5,5.4 L325.7,5.1 L326.8,4.7 L328.0,4.4 L329.1,4.0 L330.3,3.7 L331.4,3.3 L332.6,3.0 L333.8,2.6 L334.9,2.3" stroke="#000" stroke-width="1.3" stroke-dasharray="3.2,2.4" stroke-linecap="butt"/>
<path d="M60,135.7 L83.5,135.7" stroke="#000" stroke-width="1.15" stroke-dasharray="3.9,2.3" stroke-linecap="butt"/>
<path d="M84.0,135.2 L85.2,134.8 L86.4,134.4 L87.6,134.0 L88.8,133.5 L90.0,133.0 L91.2,132.5 L92.3,131.9 L93.5,131.4 L94.6,130.8 L95.8,130.2 L96.9,129.6 L98.1,129.0 L99.2,128.5 L100.4,127.9 L101.5,127.3 L102.7,126.8 L103.8,126.3 L105.0,125.8 L106.2,125.3" stroke="#000" stroke-width="1.3" stroke-dasharray="3.5,2.6" stroke-linecap="butt" opacity="0.75"/>
</g>
<rect x="57.9" y="13.3" width="84.9" height="28.9" fill="#fff" stroke="#808080" stroke-width="0.6"/>
<g clip-path="url(#ci)"><path d="M64.7,40.0 L65.9,39.9 L67.2,39.9 L68.5,39.7 L69.7,39.6 L70.9,39.4 L72.2,39.2 L73.4,39.0 L74.6,38.7 L75.8,38.4 L77.0,38.0 L78.2,37.7 L79.4,37.3 L80.6,36.8 L81.7,36.4 L82.9,35.9 L84.0,35.4 L85.2,34.9 L86.3,34.4 L87.4,33.8 L88.5,33.2 L89.6,32.6 L90.7,32.0 L91.8,31.4 L92.8,30.7 L93.9,30.0 L94.9,29.3 L96.0,28.6 L97.0,27.9 L98.0,27.2 L99.0,26.5 L100.0,25.7 L101.0,25.0 L102.0,24.2 L102.0,24.2 L103.3,24.0 L104.5,23.7 L105.7,23.4 L107.0,23.1 L108.2,22.7 L109.4,22.3 L110.6,21.8 L111.7,21.4 L112.9,20.9 L114.1,20.4 L115.2,19.8 L116.4,19.3 L117.5,18.7 L118.6,18.1 L119.8,17.6 L120.9,17.0 L122.0,16.4 L123.1,15.7 L124.3,15.1 L125.4,14.5 L126.5,13.9 L127.6,13.4 L128.8,12.8 L129.9,12.2 L131.0,11.6" fill="none" stroke="#ff0000" stroke-width="1.15" stroke-linejoin="round"/></g>
<path d="M88.9,42.2v-3.4 M119.5,42.2v-3.4" stroke="#606060" stroke-width="0.6"/>
<text transform="translate(112.19,36.30) scale(1.0043,1)" font-size="14">x 20</text>
<rect x="57.7" y="6.3" width="403.8" height="288.0" fill="none" stroke="#000" stroke-width="1.15"/>
<path d="M88.65,294.4v-3.4 M88.65,6.3v3.4 M119.70,294.4v-6.0 M119.70,6.3v6.0 M150.75,294.4v-3.4 M150.75,6.3v3.4 M181.80,294.4v-6.0 M181.80,6.3v6.0 M212.85,294.4v-3.4 M212.85,6.3v3.4 M243.90,294.4v-6.0 M243.90,6.3v6.0 M274.95,294.4v-3.4 M274.95,6.3v3.4 M306.00,294.4v-6.0 M306.00,6.3v6.0 M337.05,294.4v-3.4 M337.05,6.3v3.4 M368.10,294.4v-6.0 M368.10,6.3v6.0 M399.15,294.4v-3.4 M399.15,6.3v3.4 M430.20,294.4v-6.0 M430.20,6.3v6.0 M57.7,47.23h3.6 M461.4,47.23h-3.6 M57.7,82.45h5.8 M461.4,82.45h-5.8 M57.7,117.68h3.6 M461.4,117.68h-3.6 M57.7,152.90h5.8 M461.4,152.90h-5.8 M57.7,188.12h3.6 M461.4,188.12h-3.6 M57.7,223.35h5.8 M461.4,223.35h-5.8 M57.7,258.58h3.6 M461.4,258.58h-3.6 M57.7,293.80h5.8 M461.4,293.80h-5.8" stroke="#000" stroke-width="1.1" fill="none"/>
<path d="M58.3,12.1h4.6 M460.8,12.1h-4.8" stroke="#6a6a6a" stroke-width="1.3"/>
<text transform="translate(53.39,312.70) scale(0.9357,1)" font-size="16.2">0</text>
<text transform="translate(111.32,312.70) scale(0.9333,1)" font-size="16.2">40</text>
<text transform="translate(172.66,312.70) scale(1.0117,1)" font-size="16.2">80</text>
<text transform="translate(231.69,312.70) scale(0.9120,1)" font-size="16.2">120</text>
<text transform="translate(293.35,312.70) scale(0.9438,1)" font-size="16.2">160</text>
<text transform="translate(355.10,312.70) scale(0.9916,1)" font-size="16.2">200</text>
<text transform="translate(417.02,312.70) scale(0.9602,1)" font-size="16.2">240</text>
<text transform="translate(42.55,16.50) scale(1.0000,1)" font-size="16.4">0</text>
<text transform="translate(37.22,86.95) scale(1.0000,1)" font-size="16.4">-1</text>
<text transform="translate(37.22,157.40) scale(1.0000,1)" font-size="16.4">-2</text>
<text transform="translate(37.14,227.85) scale(1.0000,1)" font-size="16.4">-3</text>
<text transform="translate(36.90,298.30) scale(1.0000,1)" font-size="16.4">-4</text>
<text transform="translate(240.27,341.20) scale(0.9524,1)" font-size="20">T [K]</text>
<path transform="translate(22.00,227.00) rotate(-90)" d="M0,0 L4.90,-11.40 L6.05,-11.40 L9.60,0Z M1.28,-0.97 L7.28,-0.97 L4.76,-9.07Z" fill="#000" fill-rule="evenodd"/>
<text transform="translate(22.00,217.25) rotate(-90) scale(0.9761,1)" font-size="19.8">L</text>
<text transform="translate(29.40,206.34) rotate(-90) scale(0.9855,1)" font-size="11.5">b</text>
<text transform="translate(22.00,200.30) rotate(-90) scale(0.9550,1)" font-size="19.8">/</text>
<text transform="translate(22.00,195.75) rotate(-90) scale(0.9761,1)" font-size="19.8">L</text>
<text transform="translate(30.00,185.24) rotate(-90) scale(1.0008,1)" font-size="11.3">b,160K</text>
<text transform="translate(21.90,146.50) rotate(-90) scale(0.9391,1)" font-size="19.8">[10</text>
<text transform="translate(11.40,119.14) rotate(-90) scale(0.8587,1)" font-size="11.5">-3</text>
<text transform="translate(21.90,111.31) rotate(-90) scale(1.0360,1)" font-size="19.8">]</text>
<text transform="translate(304.26,36.30) scale(0.9737,1)" font-size="22.4">BaFe</text>
<text transform="translate(355.93,44.80) scale(1.1172,1)" font-size="12">2</text>
<text transform="translate(363.78,36.30) scale(0.9786,1)" font-size="22.4">(As</text>
<text transform="translate(397.09,44.80) scale(1.0153,1)" font-size="12">1-x</text>
<text transform="translate(413.70,36.30) scale(0.9513,1)" font-size="22.4">P</text>
<text transform="translate(428.30,44.80) scale(1.1228,1)" font-size="12">x</text>
<text transform="translate(435.75,36.30) scale(0.6696,1)" font-size="22.4">)</text>
<text transform="translate(441.47,44.80) scale(1.2088,1)" font-size="12">2</text>
<text transform="translate(307.39,64.10) scale(0.9549,1)" font-size="14.8" style="fill:#000">x=0</text>
<text transform="translate(307.39,81.90) scale(0.9662,1)" font-size="14.8" style="fill:#ff8000">x=0.12</text>
<text transform="translate(307.39,98.70) scale(0.9630,1)" font-size="14.8" style="fill:#008000">x=0.18</text>
<text transform="translate(307.39,116.70) scale(0.9630,1)" font-size="14.8" style="fill:#000080">x=0.25</text>
<text transform="translate(380.89,62.90) scale(0.9646,1)" font-size="14.8" style="fill:#0000ff">x=0.26</text>
<text transform="translate(380.89,80.90) scale(0.9662,1)" font-size="14.8" style="fill:#0080ff">x=0.27</text>
<text transform="translate(380.89,98.10) scale(0.9646,1)" font-size="14.8" style="fill:#ff0000">x=0.33</text>
<text transform="translate(380.91,115.70) scale(0.8623,1)" font-size="14.8" style="fill:#800000">x=1</text>
<path transform="translate(64.20,96.30)" d="M0,0 L5.00,-11.20 L6.17,-11.20 L9.80,0Z M1.31,-0.95 L7.43,-0.95 L4.86,-8.91Z" fill="#000" fill-rule="evenodd"/>
<text transform="translate(74.37,96.40) scale(1.0612,1)" font-size="17.8">b</text>
<text transform="translate(85.44,103.90) scale(0.9338,1)" font-size="11.2">tot</text>
<text transform="translate(87.81,163.70) scale(0.9984,1)" font-size="19.5">T</text>
<text transform="translate(99.01,172.20) scale(1.1227,1)" font-size="11.6">c</text>
<text transform="translate(104.86,154.00) scale(0.9957,1)" font-size="11.4">mid</text>
<path d="M61.6,63V132" stroke="#000" stroke-width="1.3"/>
<path d="M61.6,58.4 L58.2,65.6 L61.6,64.2 L65,65.6Z M61.6,137 L58.2,129.8 L61.6,131.2 L65,129.8Z" fill="#000"/>
<path d="M84.05,142V155.3" stroke="#000" stroke-width="1.5"/>
<path d="M84.05,136.2 L80.1,144.4 L84.05,142.6 L88.0,144.4Z" fill="#000"/>
<rect x="299.6" y="141.4" width="147.7" height="120.0" fill="#fff" stroke="#333" stroke-width="0.8"/>
<path d="M318.12,261.4v-2.0 M318.12,141.4v2.0 M336.53,261.4v-3.0 M336.53,141.4v3.0 M354.94,261.4v-2.0 M354.94,141.4v2.0 M373.36,261.4v-3.0 M373.36,141.4v3.0 M391.77,261.4v-2.0 M391.77,141.4v2.0 M410.19,261.4v-3.0 M410.19,141.4v3.0 M428.61,261.4v-2.0 M428.61,141.4v2.0 M299.6,243.90h2.0 M447.3,243.90h-2.0 M299.6,226.60h3.0 M447.3,226.60h-3.0 M299.6,209.30h2.0 M447.3,209.30h-2.0 M299.6,192.00h3.0 M447.3,192.00h-3.0 M299.6,174.70h2.0 M447.3,174.70h-2.0 M299.6,157.40h3.0 M447.3,157.40h-3.0" stroke="#222" stroke-width="0.7" fill="none"/>
<text transform="translate(291.94,275.00) scale(1.0133,1)" font-size="11.3">0.0</text>
<text transform="translate(328.27,275.00) scale(0.9530,1)" font-size="11.3">0.1</text>
<text transform="translate(366.06,275.00) scale(0.9735,1)" font-size="11.3">0.2</text>
<text transform="translate(402.78,275.00) scale(0.9358,1)" font-size="11.3">0.3</text>
<text transform="translate(439.06,275.00) scale(0.9721,1)" font-size="11.3">0.4</text>
<text transform="translate(290.71,264.40) scale(1.0806,1)" font-size="11.3">0</text>
<text transform="translate(292.00,230.70) scale(0.8232,1)" font-size="11.3">1</text>
<text transform="translate(290.41,196.00) scale(1.2253,1)" font-size="11.3">2</text>
<text transform="translate(290.41,161.60) scale(1.0921,1)" font-size="11.3">3</text>
<text transform="translate(373.68,286.90) scale(1.1164,1)" font-size="13.2">x</text>
<path transform="translate(282.20,214.10) rotate(-90)" d="M0,0 L3.98,-9.10 L4.91,-9.10 L7.80,0Z M1.04,-0.77 L5.92,-0.77 L3.87,-7.24Z" fill="#000" fill-rule="evenodd"/>
<text transform="translate(282.20,206.27) rotate(-90) scale(1.0060,1)" font-size="14.8">b</text>
<text transform="translate(287.30,198.13) rotate(-90) scale(1.0028,1)" font-size="8.6">tot</text>
<text transform="translate(302.61,220.40) scale(0.9903,1)" font-size="9.8">orthorhombic</text>
<text transform="translate(413.55,220.30) scale(0.9957,1)" font-size="9.8">tetra-</text>
<text transform="translate(413.30,230.90) scale(1.0160,1)" font-size="9.8">gonal</text>
<path d="M299.8,153.5 L396.9,226.6" stroke="#000" stroke-width="2" fill="none"/>
<polygon points="299.80,150.60 303.32,153.16 301.97,157.29 297.63,157.29 296.28,153.16" fill="#808080" stroke="#000" stroke-width="1.7" stroke-linejoin="miter"/>
<polygon points="343.90,180.60 347.42,183.16 346.07,187.29 341.73,187.29 340.38,183.16" fill="#808080" stroke="#000" stroke-width="1.7" stroke-linejoin="miter"/>
<polygon points="365.95,199.70 369.47,202.26 368.12,206.39 363.78,206.39 362.43,202.26" fill="#808080" stroke="#000" stroke-width="1.7" stroke-linejoin="miter"/>
<polygon points="391.75,220.30 395.27,222.86 393.92,226.99 389.58,226.99 388.23,222.86" fill="#808080" stroke="#000" stroke-width="1.7" stroke-linejoin="miter"/>
<polygon points="395.40,236.90 398.92,239.46 397.57,243.59 393.23,243.59 391.88,239.46" fill="#808080" stroke="#000" stroke-width="1.7" stroke-linejoin="miter"/>
<polygon points="399.00,247.70 402.52,250.26 401.17,254.39 396.83,254.39 395.48,250.26" fill="#808080" stroke="#000" stroke-width="1.7" stroke-linejoin="miter"/>
</svg></body></html>
